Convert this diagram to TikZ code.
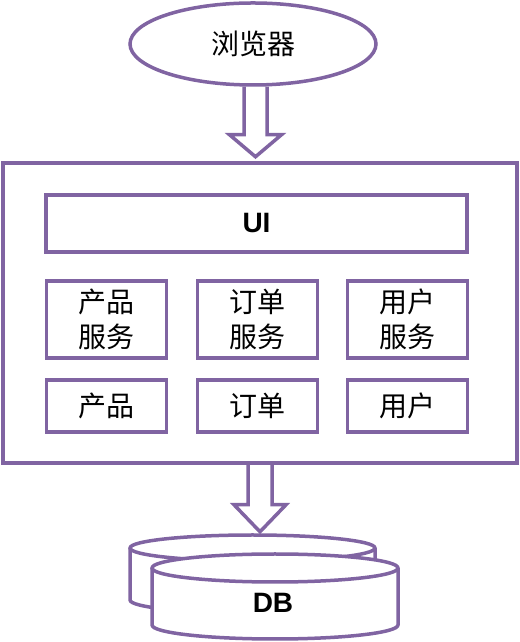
\documentclass[tikz,border=0pt]{standalone}
\usepackage{fontspec}
\setmainfont{Liberation Sans}
\newfontfamily\cjk{Noto Sans CJK SC}
\usetikzlibrary{shapes.geometric}
\definecolor{pur}{HTML}{8064A2}
\tikzset{
  box/.style={draw=pur, line width=3.5pt, fill=white, inner sep=0pt, align=center,
    font=\cjk\fontsize{28}{35}\selectfont},
  svc/.style={box, minimum width=120pt, minimum height=77pt},
  dat/.style={box, minimum width=120pt, minimum height=52pt},
  blk/.style={draw=pur, line width=3.5pt, line join=miter},
  cyl/.style={draw=pur, line width=3.5pt, line join=round},
}
\begin{document}
\begin{tikzpicture}[x=1pt,y=1pt]
\useasboundingbox (0,0) rectangle (519,642);
% browser
\node[box, ellipse, minimum width=246pt, minimum height=82pt] (browser) at (253,598) {浏览器};
% system frame
\node[box, minimum width=514pt, minimum height=300pt] (sys) at (260,329) {};
\node[box, minimum width=421pt, minimum height=57pt, font=\bfseries\fontsize{28}{35}\selectfont] (ui) at (256.5,418.5) {UI};
\node[svc] (psvc) at (106.5,322.5) {产品\\服务};
\node[svc] (osvc) at (257.5,322.5) {订单\\服务};
\node[svc] (usvc) at (407.5,322.5) {用户\\服务};
\node[dat] (pdat) at (106.5,236) {产品};
\node[dat] (odat) at (257.5,236) {订单};
\node[dat] (udat) at (407.5,236) {用户};
% block arrows
\draw[blk] ([xshift=-9pt]browser.south) -- ++(0,-48) -- ++(-14.5,0) -- ++(26,-22) -- ++(26,22) -- ++(-14.5,0) -- ++(0,48);
\draw[blk] ([xshift=-12pt]sys.south) -- ++(0,-40) -- ++(-14,0) -- ++(26,-27) -- ++(26,27) -- ++(-14,0) -- ++(0,40);
% DB (back)
\fill[white] (130,94) -- (130,42) arc[start angle=180,end angle=360,x radius=122.5,y radius=13] -- (375,94) arc[start angle=0,end angle=180,x radius=122.5,y radius=13] -- cycle;
\draw[cyl] (130,94) -- (130,42) arc[start angle=180,end angle=360,x radius=122.5,y radius=13] -- (375,94);
\draw[cyl] (252.5,94) ellipse [x radius=122.5, y radius=13];
% DB (front)
\fill[white] (152,74) -- (152,17) arc[start angle=180,end angle=360,x radius=123,y radius=14] -- (398,74) arc[start angle=0,end angle=180,x radius=123,y radius=14] -- cycle;
\draw[cyl] (152,74) -- (152,17) arc[start angle=180,end angle=360,x radius=123,y radius=14] -- (398,74);
\draw[cyl] (275,74) ellipse [x radius=123, y radius=14];
\node[font=\bfseries\fontsize{28}{35}\selectfont] (db) at (273,39) {DB};
\end{tikzpicture}
\end{document}
